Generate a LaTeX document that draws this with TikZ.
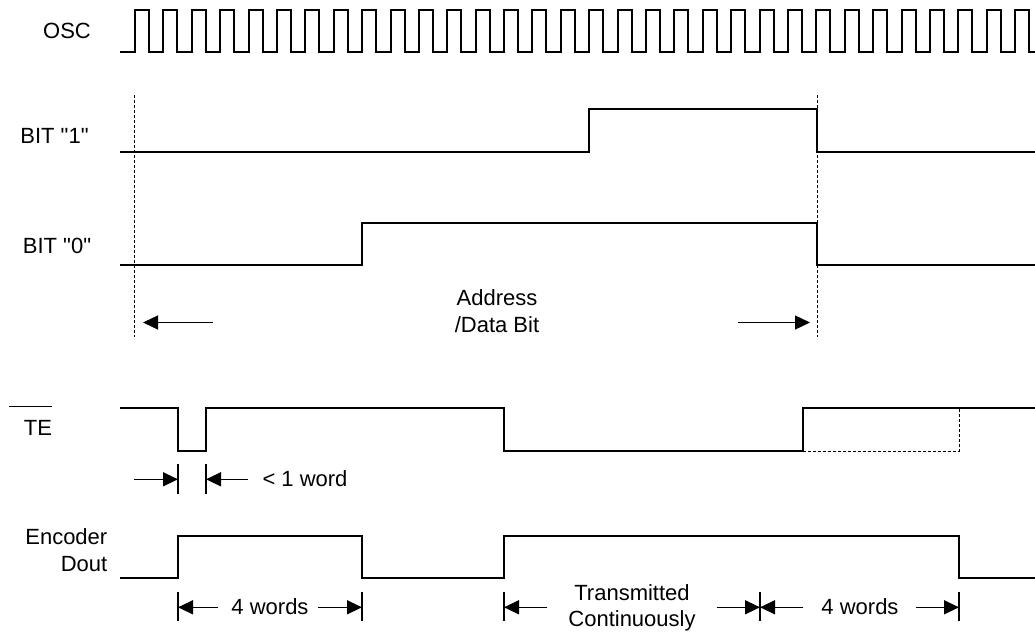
\documentclass[tikz,border=0pt]{standalone}
\usepackage{fontspec}
\setmainfont{Liberation Sans}[Ligatures=TeXOff]
\usetikzlibrary{arrows.meta}
\begin{document}
\begin{tikzpicture}[x=1pt,y=-1pt,
  wave/.style={line width=2pt, line join=miter},
  guide/.style={line width=0.9pt, dash pattern=on 3pt off 2pt},
  tickline/.style={line width=1.2pt},
  dimarrow/.style={line width=1.4pt, -{Triangle[length=15pt,width=14pt]}},
  lbl/.style={font=\fontsize{22}{26}\selectfont, inner sep=0pt, anchor=base},
  lblr/.style={lbl, anchor=base east},
]
\useasboundingbox (0,0) rectangle (1035,632);

% ---------- labels ----------
\node[lbl] (osc) at (67,38.5) {OSC};
\node[lbl] (bit1) at (54.5,143.5) {BIT "1"};
\node[lbl] (bit0) at (57,253.5) {BIT "0"};
\node[lbl] (te) at (38,435) {TE};
\draw[line width=1.3pt] (9,406.7) -- (52.3,406.7);
\node[lblr] (enc1) at (107.5,544) {Encoder};
\node[lblr] (enc2) at (107.5,571) {Dout};
\node[lbl] (addr1) at (497,305) {Address};
\node[lbl] (addr2) at (497,332) {/Data Bit};
\node[lbl] (lt1) at (305,486.7) {< 1 word};
\node[lbl] (w4a) at (270,614) {4 words};
\node[lbl] (tc1) at (632,600) {Transmitted};
\node[lbl] (tc2) at (632,626) {Continuously};
\node[lbl] (w4b) at (860,614) {4 words};

% ---------- OSC ----------
\draw[wave] (120,52)
  foreach \k in {0,...,31}{
    -- ({round(135+\k*28.39)},52) -- ({round(135+\k*28.39)},10)
    -- ({round(149+\k*28.39)},10) -- ({round(149+\k*28.39)},52) }
  -- (1035,52);

% ---------- BIT "1" and BIT "0" ----------
\draw[wave] (120,152) -- (589,152) -- (589,109) -- (817,109)
  -- (817,152) -- (1035,152);
\draw[wave] (120,265) -- (362,265) -- (362,223) -- (817,223)
  -- (817,265) -- (1035,265);

% ---------- guides ----------
\draw[guide] (134.5,95) -- (134.5,337);
\draw[guide] (817,95) -- (817,337);

% ---------- address / data bit arrows ----------
\draw[dimarrow] (213,322.5) -- (143,322.5);
\draw[dimarrow] (738,322.5) -- (810,322.5);

% ---------- TE ----------
\draw[wave] (120,408) -- (178,408) -- (178,451) -- (206,451)
  -- (206,408) -- (504,408) -- (504,451) -- (803,451)
  -- (803,408) -- (1035,408);
\draw[guide] (803,451) -- (959.3,451) -- (959.3,408);

% < 1 word
\draw[tickline] (178,464) -- (178,493.5);
\draw[tickline] (206,464) -- (206,493.5);
\draw[dimarrow] (134,479.3) -- (178,479.3);
\draw[dimarrow] (248.3,479.3) -- (206,479.3);

% ---------- Encoder Dout ----------
\draw[wave] (120,578) -- (178,578) -- (178,536) -- (362,536)
  -- (362,578) -- (504,578) -- (504,536) -- (959,536)
  -- (959,578) -- (1035,578);

\foreach \x in {178,362,504,760,959}
  \draw[tickline] (\x,591.7) -- (\x,620.7);
\draw[dimarrow] (218.3,607.3) -- (178,607.3);
\draw[dimarrow] (318.3,607.3) -- (362,607.3);
\draw[dimarrow] (547.3,607.3) -- (504,607.3);
\draw[dimarrow] (716.7,607.3) -- (760,607.3);
\draw[dimarrow] (803.3,607.3) -- (760,607.3);
\draw[dimarrow] (916,607.3) -- (959,607.3);
\end{tikzpicture}
\end{document}
